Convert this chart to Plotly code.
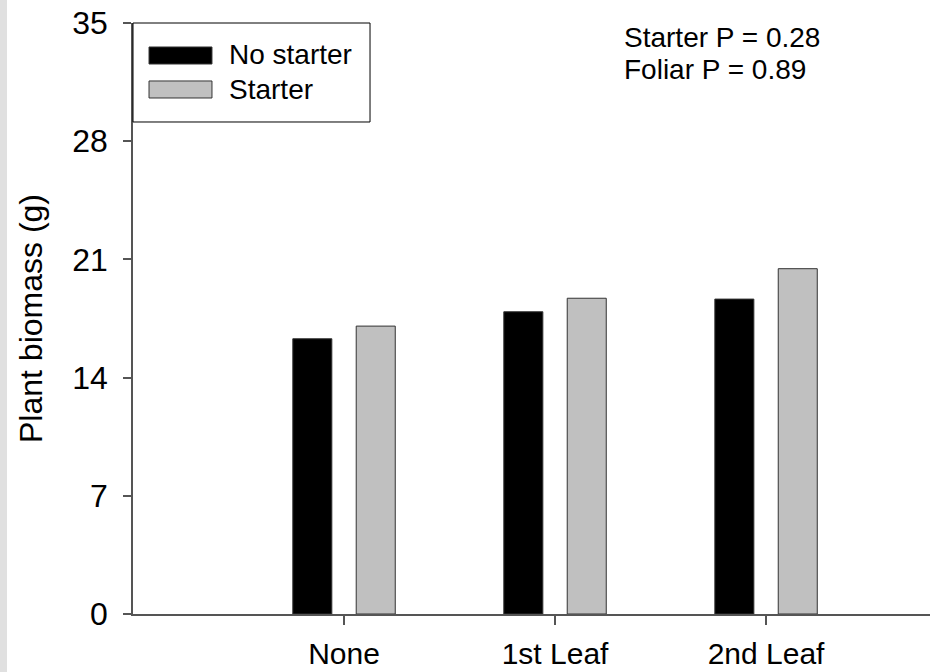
import plotly.graph_objects as go

categories = ["None", "1st Leaf", "2nd Leaf"]
cat_pos = [0, 1, 2]
no_starter = [16.3, 17.9, 18.65]
starter = [17.05, 18.7, 20.45]
y_ticks = [0, 7, 14, 21, 28, 35]
series_names = ["No starter", "Starter"]
stats_text = ["Starter P = 0.28", "Foliar P = 0.89"]

FONT = "Liberation Sans, Arial, sans-serif"
AXIS_COLOR = "#555555"

fig = go.Figure()
fig.add_trace(go.Bar(
    x=cat_pos, y=no_starter, name=series_names[0],
    width=0.185, offset=-0.2427,
    marker=dict(color="#000000", line=dict(color="#333333", width=1)),
    showlegend=False,
))
fig.add_trace(go.Bar(
    x=cat_pos, y=starter, name=series_names[1],
    width=0.185, offset=0.0578,
    marker=dict(color="#c0c0c0", line=dict(color="#333333", width=1)),
    showlegend=False,
))

shapes = []
# grey strip at the left edge
shapes.append(dict(type="rect", xref="paper", yref="paper",
                   x0=-0.17, x1=-0.1581, y0=-0.2, y1=1.2,
                   fillcolor="#e0e0e0", line=dict(width=0), layer="below"))
# legend box
shapes.append(dict(type="rect", xref="paper", yref="paper",
                   x0=0, x1=0.2974, y0=0.8325, y1=1.0,
                   fillcolor="rgba(0,0,0,0)", line=dict(color="#000000", width=1)))
# legend swatches
shapes.append(dict(type="rect", xref="paper", yref="paper",
                   x0=0.0201, x1=0.0991, y0=0.9306, y1=0.9594,
                   fillcolor="#000000", line=dict(color="#333333", width=1)))
shapes.append(dict(type="rect", xref="paper", yref="paper",
                   x0=0.0201, x1=0.0991, y0=0.8731, y1=0.9019,
                   fillcolor="#c0c0c0", line=dict(color="#333333", width=1)))

annotations = [
    dict(text=series_names[0], xref="paper", yref="paper", x=0.1185, y=0.9475,
         xanchor="left", yanchor="middle", showarrow=False,
         font=dict(family=FONT, size=28, color="#000000")),
    dict(text=series_names[1], xref="paper", yref="paper", x=0.1185, y=0.8883,
         xanchor="left", yanchor="middle", showarrow=False,
         font=dict(family=FONT, size=28, color="#000000")),
    dict(text=stats_text[0], xref="paper", yref="paper", x=0.6135, y=0.9755,
         xanchor="left", yanchor="middle", showarrow=False,
         font=dict(family=FONT, size=28, color="#000000")),
    dict(text=stats_text[1], xref="paper", yref="paper", x=0.6135, y=0.9215,
         xanchor="left", yanchor="middle", showarrow=False,
         font=dict(family=FONT, size=28, color="#000000")),
]

fig.update_layout(
    width=930, height=672,
    margin=dict(l=133, r=0, t=23, b=58, autoexpand=False),
    paper_bgcolor="#ffffff", plot_bgcolor="#ffffff",
    barmode="overlay",
    shapes=shapes, annotations=annotations,
    font=dict(family=FONT, color="#000000"),
    xaxis=dict(
        range=[-1, 2.777], tickmode="array", tickvals=cat_pos, ticktext=categories,
        showgrid=False, zeroline=False, showline=True, linecolor=AXIS_COLOR, linewidth=1.5,
        ticks="outside", ticklen=9, tickcolor=AXIS_COLOR, tickwidth=1.5,
        ticklabelstandoff=3,
        tickfont=dict(family=FONT, size=30, color="#000000"),
    ),
    yaxis=dict(
        range=[0, 35], tickmode="array", tickvals=y_ticks,
        showgrid=False, zeroline=False, showline=True, linecolor=AXIS_COLOR, linewidth=1.5,
        ticks="outside", ticklen=8, tickcolor=AXIS_COLOR, tickwidth=1.5,
        ticklabelstandoff=9,
        tickfont=dict(family=FONT, size=32, color="#000000"),
        title=dict(text="Plant biomass (g)", font=dict(family=FONT, size=32, color="#000000"),
                   standoff=20),
    ),
)

fig.write_html("out.html", config={"displayModeBar": False},
               post_script="document.body.style.margin='0';document.body.style.overflow='hidden';")
